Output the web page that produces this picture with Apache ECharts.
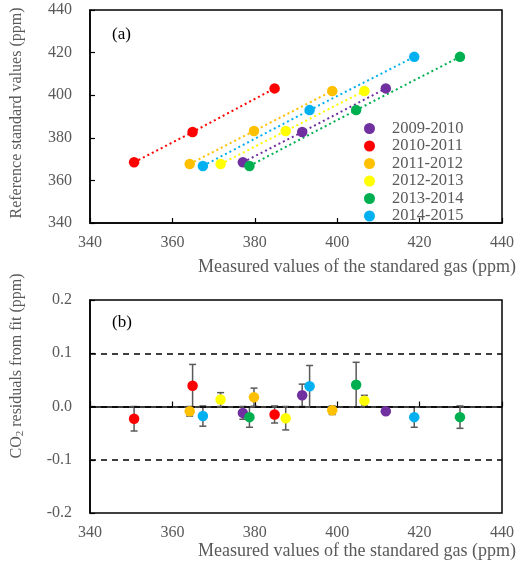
<!DOCTYPE html>
<html><head><meta charset="utf-8">
<script src="https://cdn.jsdelivr.net/npm/echarts@6/dist/echarts.min.js"></script>
<style>html,body{margin:0;padding:0;background:#fff}#c{width:517px;height:574px}</style>
</head><body><div id="c"></div>
<script>
// ---- data ----
const years = ['2009-2010','2010-2011','2011-2012','2012-2013','2013-2014','2014-2015'];
const colors = ['#7030A0','#FF0000','#FFC000','#FFFF00','#00B050','#00B0F0'];
const measured2009 = [377.1, 391.5, 411.8];
const measured2010 = [350.7, 364.9, 384.8];
const measured2011 = [364.2, 379.8, 398.8];
const measured2012 = [371.7, 387.5, 406.6];
const measured2013 = [378.7, 404.6, 429.8];
const measured2014 = [367.4, 393.3, 418.7];
const reference2009 = [368.5, 382.7, 403.2];
const reference2010 = [368.5, 382.7, 403.2];
const reference2011 = [367.7, 383.2, 402.0];
const reference2012 = [367.7, 383.2, 402.0];
const reference2013 = [366.8, 393.0, 418.0];
const reference2014 = [366.8, 393.0, 418.0];
const residual2009 = [-0.012, 0.021, -0.009];
const residual2010 = [-0.023, 0.039, -0.015];
const residual2011 = [-0.009, 0.0175, -0.007];
const residual2012 = [0.013, -0.022, 0.011];
const residual2013 = [-0.020, 0.041, -0.020];
const residual2014 = [-0.018, 0.038, -0.020];
const error2009 = [0.012, 0.021, 0.003];
const error2010 = [0.023, 0.040, 0.016];
const error2011 = [0.009, 0.017, 0.008];
const error2012 = [0.013, 0.022, 0.010];
const error2013 = [0.019, 0.042, 0.021];
const error2014 = [0.019, 0.039, 0.019];
const refLines = [0.1, 0, -0.1];
const xTicks = [340, 440, 20];
const yTicksTop = [340, 440, 20];
const yTicksBottom = [-0.2, 0.2, 0.1];

const measured = [measured2009, measured2010, measured2011, measured2012, measured2013, measured2014];
const reference = [reference2009, reference2010, reference2011, reference2012, reference2013, reference2014];
const residual = [residual2009, residual2010, residual2011, residual2012, residual2013, residual2014];
const errors = [error2009, error2010, error2011, error2012, error2013, error2014];

const FONT = '"Liberation Serif", "Times New Roman", serif';
const GRAY = '#595959';

function xAxisCfg(gi){
  return {
    type:'value', gridIndex:gi, min:xTicks[0], max:xTicks[1], interval:xTicks[2],
    axisLine:{show:true, lineStyle:{color:'#000', width:1.5}},
    axisTick:{show:true, inside:true, length:5, lineStyle:{color:'#000', width:1.2}},
    axisLabel:{color:GRAY, fontFamily:FONT, fontSize:16, margin:12},
    splitLine:{show:false}
  };
}
function yAxisCfg(gi, t, fmt){
  return {
    type:'value', gridIndex:gi, min:t[0], max:t[1], interval:t[2],
    axisLine:{show:true, lineStyle:{color:'#000', width:1.5}},
    axisTick:{show:true, inside:true, length:5, lineStyle:{color:'#000', width:1.2}},
    axisLabel:{color:GRAY, fontFamily:FONT, fontSize:16, margin:18, formatter:fmt},
    splitLine:{show:false}
  };
}

const series = [];
series.push({
  type:'line', xAxisIndex:1, yAxisIndex:1, data:[], silent:true,
  markLine:{
    symbol:'none', silent:true, label:{show:false},
    lineStyle:{color:'#000', type:[6,5], width:1.5},
    data: refLines.map(v=>({yAxis:v}))
  }
});
years.forEach((y,i)=>{
  series.push({
    type:'custom', xAxisIndex:1, yAxisIndex:1, silent:true, z:3,
    data: measured[i].map((x,j)=>[x, residual[i][j], errors[i][j]]),
    renderItem:function(params, api){
      const x = api.value(0), v = api.value(1), e = api.value(2);
      const hi = api.coord([x, v+e]);
      const lo = api.coord([x, v-e]);
      const w = 3.5;
      const st = {stroke:GRAY, lineWidth:1.5};
      return {type:'group', children:[
        {type:'line', shape:{x1:hi[0], y1:hi[1], x2:lo[0], y2:lo[1]}, style:st},
        {type:'line', shape:{x1:hi[0]-w, y1:hi[1], x2:hi[0]+w, y2:hi[1]}, style:st},
        {type:'line', shape:{x1:lo[0]-w, y1:lo[1], x2:lo[0]+w, y2:lo[1]}, style:st}
      ]};
    }
  });
});
years.forEach((y,i)=>{
  series.push({
    name:y, type:'line', xAxisIndex:0, yAxisIndex:0,
    data: measured[i].map((x,j)=>[x, reference[i][j]]),
    symbol:'circle', symbolSize:10.5, showSymbol:true,
    itemStyle:{color:colors[i]},
    lineStyle:{color:colors[i], type:[2,3], width:2},
    z:4
  });
  series.push({
    name:y, type:'scatter', xAxisIndex:1, yAxisIndex:1,
    data: measured[i].map((x,j)=>[x, residual[i][j]]),
    symbol:'circle', symbolSize:10.5, itemStyle:{color:colors[i], opacity:1}, z:5
  });
});

const chart = echarts.init(document.getElementById('c'), null, {renderer:'canvas'});
chart.setOption({
  animation:false,
  backgroundColor:'#fff',
  grid:[
    {left:90, top:10, width:413, height:213, show:true, borderColor:'#000', borderWidth:1.5},
    {left:90, top:300, width:413, height:213, show:true, borderColor:'#000', borderWidth:1.5}
  ],
  xAxis:[xAxisCfg(0), xAxisCfg(1)],
  yAxis:[yAxisCfg(0, yTicksTop), yAxisCfg(1, yTicksBottom, v=>v.toFixed(1))],
  legend:{
    data:years, orient:'vertical', left:359, top:115,
    icon:'circle', itemWidth:11, itemHeight:11, itemGap:0.5,
    textStyle:{color:GRAY, fontFamily:FONT, fontSize:16.5, lineHeight:16, padding:[0,0,0,12]}
  },
  graphic:[
    {type:'text', left:112, top:26, style:{text:'(a)', font:'17px '+FONT, fill:'#000'}},
    {type:'text', left:112, top:314, style:{text:'(b)', font:'17px '+FONT, fill:'#000'}},
    {type:'text', right:1, top:258, style:{text:'Measured values of the standared gas (ppm)', font:'18px '+FONT, fill:GRAY}},
    {type:'text', right:1, top:542, style:{text:'Measured values of the standared gas (ppm)', font:'18px '+FONT, fill:GRAY}},
    {type:'text', x:17, y:113, rotation:Math.PI/2, style:{text:'Reference standard values (ppm)', font:'16px '+FONT, fill:GRAY, align:'center', verticalAlign:'middle'}},
    {type:'text', x:17, y:366, rotation:Math.PI/2, style:{rich:{n:{fontFamily:FONT, fontSize:16, fill:GRAY}, s:{fontFamily:FONT, fontSize:11, fill:GRAY, padding:[6,0,0,0]}}, text:'{n|CO}{s|2}{n| residuals from fit (ppm)}', align:'center', verticalAlign:'middle'}}
  ],
  series: series
});
</script></body></html>
